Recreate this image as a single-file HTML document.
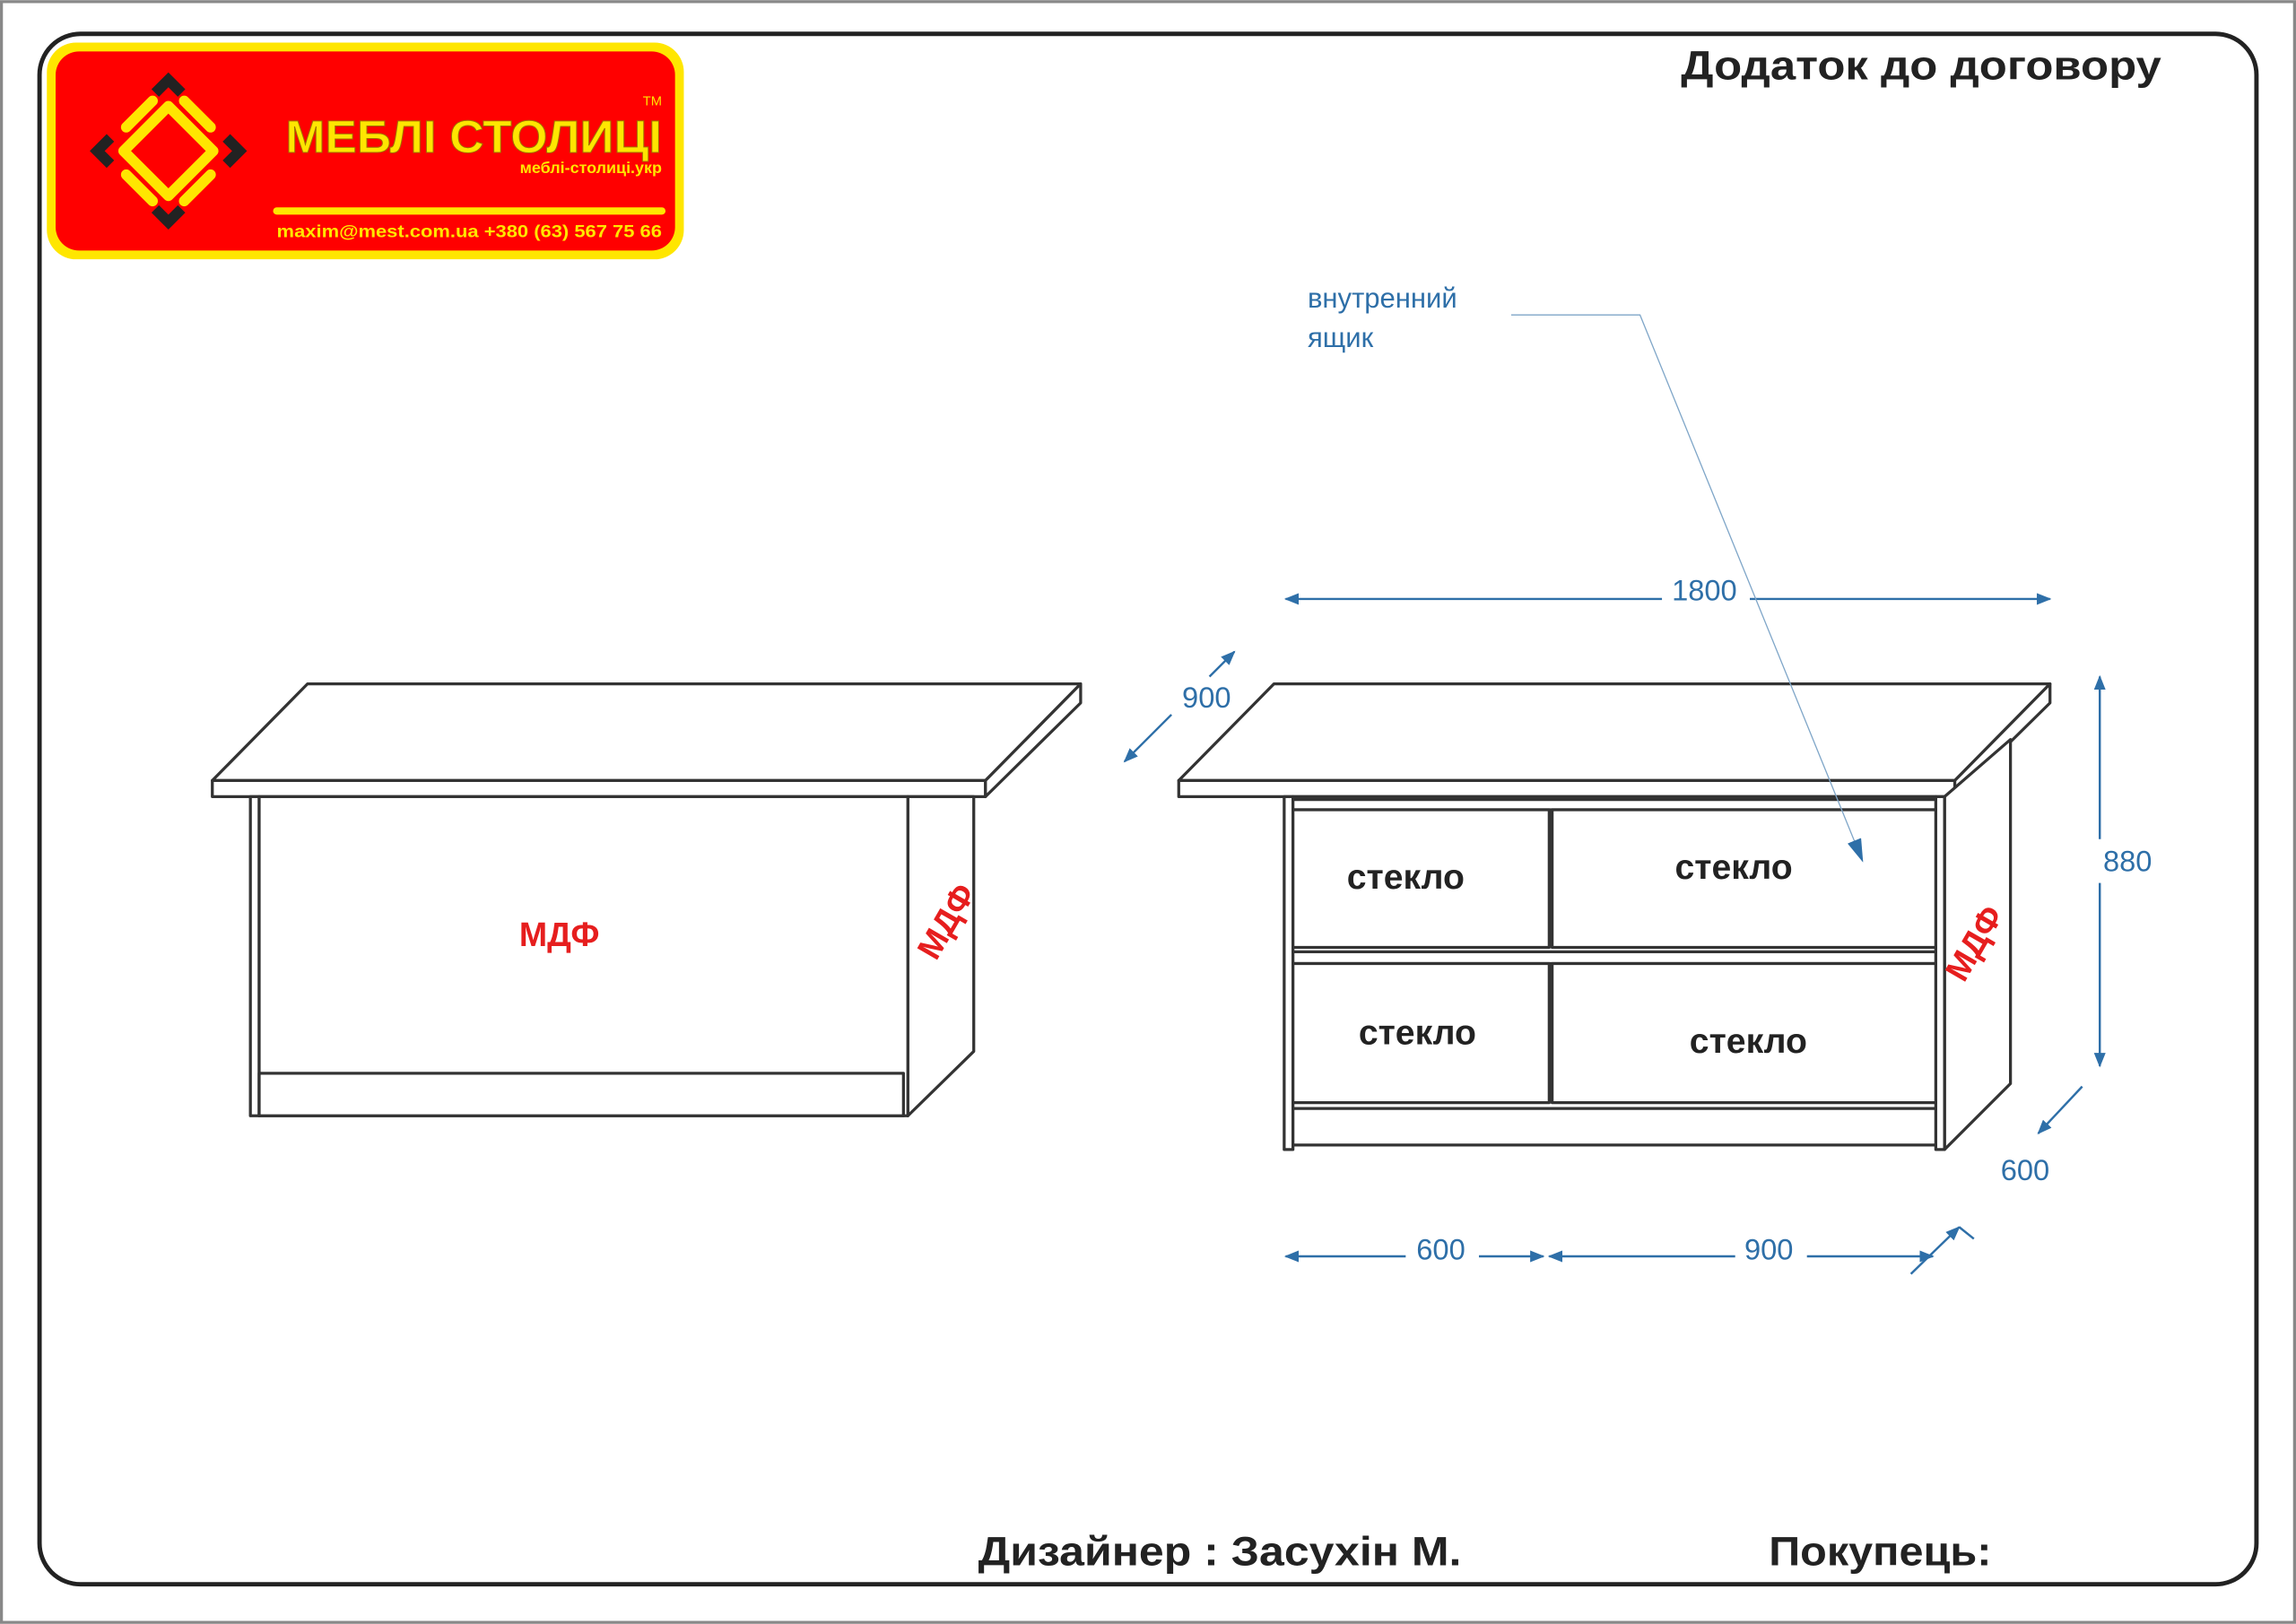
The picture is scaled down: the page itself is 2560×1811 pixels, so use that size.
<!DOCTYPE html>
<html><head><meta charset="utf-8"><style>
html,body{margin:0;padding:0;background:#fff;}
svg{display:block;}
</style></head><body>
<svg width="2560" height="1811" viewBox="0 0 1568 1109" xmlns="http://www.w3.org/2000/svg" font-family="'Liberation Sans', 'DejaVu Sans', sans-serif">
<rect x="0" y="0" width="1568" height="1109" fill="#fff"/>
<rect x="1" y="1" width="1566" height="1107" fill="none" stroke="#888" stroke-width="2"/>
<rect x="27" y="23" width="1514" height="1059" rx="28" fill="none" stroke="#222" stroke-width="3"/>

<!-- Logo -->
<rect x="32" y="29" width="435" height="148" rx="20" fill="#ffe600"/>
<rect x="38" y="35" width="423" height="136" rx="16" fill="#ff0000"/>
<g transform="translate(115,103) scale(0.9)">
  <polygon points="0,-34 34,0 0,34 -34,0" fill="none" stroke="#ffe600" stroke-width="8" stroke-linejoin="round"/>
  <g stroke="#ffe600" stroke-width="8" stroke-linecap="round">
    <line x1="-12" y1="-38" x2="-32" y2="-18"/><line x1="12" y1="-38" x2="32" y2="-18"/>
    <line x1="-12" y1="38" x2="-32" y2="18"/><line x1="12" y1="38" x2="32" y2="18"/>
  </g>
  <g fill="none" stroke="#222" stroke-width="8">
    <polyline points="-10,-44 0,-54 10,-44"/><polyline points="-10,44 0,54 10,44"/>
    <polyline points="-44,-10 -54,0 -44,10"/><polyline points="44,-10 54,0 44,10"/>
  </g>
</g>
<text x="195" y="104" textLength="257" lengthAdjust="spacingAndGlyphs" font-size="31" font-weight="bold" fill="#ffe600" stroke="#a07000" stroke-width="0.6">МЕБЛІ СТОЛИЦІ</text>
<text x="452" y="72" text-anchor="end" font-size="9" fill="#ffe600">TM</text>
<text x="452" y="118" text-anchor="end" font-size="11" font-weight="bold" fill="#ffe600">меблі-столиці.укр</text>
<line x1="189" y1="144" x2="452" y2="144" stroke="#ffe600" stroke-width="5" stroke-linecap="round"/>
<text x="189" y="162" textLength="263" lengthAdjust="spacingAndGlyphs" font-size="12" font-weight="bold" fill="#ffe600">maxim@mest.com.ua  +380 (63) 567 75 66</text>

<text x="1148" y="54" textLength="328" lengthAdjust="spacingAndGlyphs" font-size="28" font-weight="bold" fill="#222">Додаток до договору</text>

<!-- Left piece -->
<g fill="#fff" stroke="#333" stroke-width="2" stroke-linejoin="round">
  <polygon points="145,533 210,467 738,467 673,533"/>
  <rect x="145" y="533" width="528" height="11"/>
  <polygon points="673,533 738,467 738,480 673,544"/>
  <polygon points="620,544 665,544 665,718 620,762"/>
  <rect x="171" y="544" width="6" height="218"/>
  <rect x="177" y="544" width="443" height="218"/>
  <rect x="177" y="733" width="440" height="29"/>
</g>
<text x="382" y="646" text-anchor="middle" font-size="23" font-weight="bold" fill="#e61e1e">МДФ</text>
<text x="0" y="0" font-size="23" font-weight="bold" fill="#e61e1e" text-anchor="middle" transform="translate(653,633) rotate(-60)">МДФ</text>

<!-- Right piece -->
<g fill="#fff" stroke="#333" stroke-width="2" stroke-linejoin="round">
  <polygon points="805,533 870,467 1400,467 1335,533"/>
  <rect x="805" y="533" width="530" height="11"/>
  <polygon points="1335,533 1400,467 1400,480 1335,544"/>
  <polygon points="1328,544 1373,505 1373,740 1328,785"/>
  <rect x="877" y="544" width="6" height="241"/>
  <rect x="1322" y="544" width="6" height="241"/>
  <rect x="883" y="544" width="439" height="238"/>
  <rect x="883" y="757" width="439" height="25"/>
  <rect x="883" y="546" width="439" height="7"/>
  <rect x="883" y="553" width="175" height="94"/>
  <rect x="1060" y="553" width="262" height="94"/>
  <rect x="883" y="650" width="439" height="8"/>
  <rect x="883" y="658" width="175" height="95"/>
  <rect x="1060" y="658" width="262" height="95"/>
</g>
<g font-size="24" font-weight="bold" fill="#222" text-anchor="middle">
  <text x="960" y="607">стекло</text>
  <text x="1184" y="600">стекло</text>
  <text x="968" y="713">стекло</text>
  <text x="1194" y="719">стекло</text>
</g>
<text x="0" y="0" font-size="23" font-weight="bold" fill="#e61e1e" text-anchor="middle" transform="translate(1355,648) rotate(-60)">МДФ</text>

<!-- Dimensions -->
<defs>
<marker id="ar" markerWidth="10" markerHeight="8" refX="9" refY="4" orient="auto" markerUnits="userSpaceOnUse"><path d="M0,0 L10,4 L0,8 z" fill="#2e6fa8"/></marker>
<marker id="al" markerWidth="10" markerHeight="8" refX="1" refY="4" orient="auto" markerUnits="userSpaceOnUse"><path d="M10,0 L0,4 L10,8 z" fill="#2e6fa8"/></marker>
<marker id="big" markerWidth="16" markerHeight="10" refX="15" refY="5" orient="auto" markerUnits="userSpaceOnUse"><path d="M0,0 L16,5 L0,10 z" fill="#2e6fa8"/></marker>
</defs>
<g stroke="#2e6fa8" stroke-width="1.5" fill="none">
  <line x1="878" y1="409" x2="1135" y2="409" marker-start="url(#al)"/>
  <line x1="1195" y1="409" x2="1400" y2="409" marker-end="url(#ar)"/>
  <line x1="843" y1="445" x2="826" y2="462" marker-start="url(#al)"/>
  <line x1="800" y1="488" x2="768" y2="520" marker-end="url(#ar)"/>
  <line x1="1434" y1="462" x2="1434" y2="573" marker-start="url(#al)"/>
  <line x1="1434" y1="603" x2="1434" y2="728" marker-end="url(#ar)"/>
  <line x1="1422" y1="742" x2="1392" y2="774" marker-end="url(#ar)"/>
  <line x1="878" y1="858" x2="960" y2="858" marker-start="url(#al)"/>
  <line x1="1010" y1="858" x2="1054" y2="858" marker-end="url(#ar)"/>
  <line x1="1058" y1="858" x2="1185" y2="858" marker-start="url(#al)"/>
  <line x1="1234" y1="858" x2="1320" y2="858" marker-end="url(#ar)"/>
  <line x1="1305" y1="870" x2="1338" y2="838" marker-end="url(#ar)"/>
  <line x1="1338" y1="838" x2="1348" y2="846"/>
</g>
<polyline stroke="#7fa6c8" stroke-width="0.8" fill="none" points="1032,215 1120,215 1272,588" marker-end="url(#big)"/>
<g font-size="20" fill="#2e6fa8" text-anchor="middle">
  <text x="1164" y="410">1800</text>
  <text x="824" y="483">900</text>
  <text x="1453" y="595">880</text>
  <text x="1383" y="806">600</text>
  <text x="984" y="860">600</text>
  <text x="1208" y="860">900</text>
</g>
<text x="893" y="210" font-size="19" fill="#2e6fa8">внутренний</text>
<text x="893" y="237" font-size="19" fill="#2e6fa8">ящик</text>

<text x="668" y="1069" textLength="330" lengthAdjust="spacingAndGlyphs" font-size="28" font-weight="bold" fill="#222">Дизайнер : Засухін М.</text>
<text x="1208" y="1069" textLength="152" lengthAdjust="spacingAndGlyphs" font-size="28" font-weight="bold" fill="#222">Покупець:</text>
</svg>
</body></html>
